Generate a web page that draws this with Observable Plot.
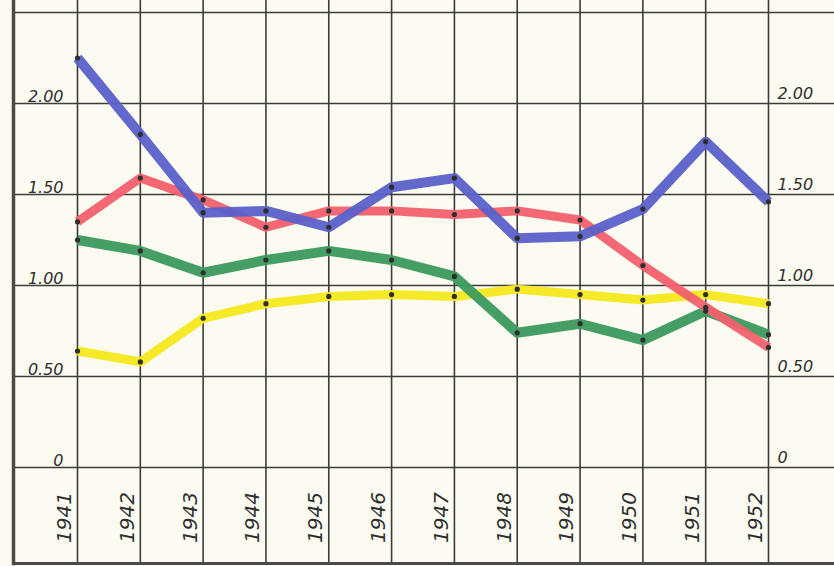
<!DOCTYPE html>
<html>
<head>
<meta charset="utf-8">
<script src="https://cdn.jsdelivr.net/npm/d3@7"></script>
<script src="https://cdn.jsdelivr.net/npm/@observablehq/plot@0.6"></script>
<style>
  html, body { margin: 0; padding: 0; background: #fcfbf1; }
  #chart svg { display: block; }
</style>
</head>
<body>
<div id="chart"></div>
<script>
const years = [1941, 1942, 1943, 1944, 1945, 1946, 1947, 1948, 1949, 1950, 1951, 1952];
const blue   = [2.25, 1.83, 1.40, 1.41, 1.32, 1.54, 1.59, 1.26, 1.27, 1.42, 1.79, 1.46];
const red    = [1.35, 1.59, 1.47, 1.32, 1.41, 1.41, 1.39, 1.41, 1.36, 1.11, 0.88, 0.66];
const green  = [1.25, 1.19, 1.07, 1.14, 1.19, 1.14, 1.05, 0.74, 0.79, 0.70, 0.86, 0.73];
const yellow = [0.64, 0.58, 0.82, 0.90, 0.94, 0.95, 0.94, 0.98, 0.95, 0.92, 0.95, 0.90];
const gridValues = [0, 0.5, 1, 1.5, 2, 2.5];
const tickValues = [0, 0.5, 1, 1.5, 2];
const tickLabels = ["0", "0.50", "1.00", "1.50", "2.00"];

const seriesList = [
  {name: "yellow", values: yellow, color: "#f5e91c", width: 9},
  {name: "green",  values: green,  color: "#3b9a5c", width: 10},
  {name: "red",    values: red,    color: "#f2606c", width: 9},
  {name: "blue",   values: blue,   color: "#5a60c9", width: 10}
];
const rows = seriesList.flatMap(s => years.map((yr, i) => ({series: s.name, year: yr, value: s.values[i]})));
const ticks = tickValues.map((v, i) => ({v, label: tickLabels[i]}));

const ink = "#3c3c3a";
const font = "'DejaVu Sans', sans-serif";

const lineMarks = seriesList.map(s =>
  Plot.line(rows.filter(d => d.series === s.name), {
    x: "year", y: "value", stroke: s.color, strokeWidth: s.width,
    strokeLinejoin: "round", strokeLinecap: "butt", strokeOpacity: 0.95
  })
);

const chart = Plot.plot({
  width: 834,
  height: 566,
  marginLeft: 13,
  marginRight: 0,
  marginTop: 0,
  marginBottom: 3,
  x: {domain: [1941, 1952], range: [77, 768], axis: null},
  y: {domain: [0, 2.5], range: [467, 12], axis: null},
  style: {background: "#fcfbf1", fontFamily: font},
  marks: [
    Plot.ruleY(gridValues, {stroke: ink, strokeWidth: 1.6}),
    Plot.ruleX(years, {stroke: ink, strokeWidth: 1.6}),
    Plot.frame({anchor: "left", stroke: "#4a4a48", strokeWidth: 3.5}),
    Plot.frame({anchor: "bottom", stroke: "#4a4a48", strokeWidth: 3}),
    ...lineMarks,
    Plot.dot(rows, {x: "year", y: "value", r: 2.6, fill: "#2e2e2e", stroke: "none"}),
    Plot.text(ticks, {
      x: () => 1941, y: "v", text: "label", textAnchor: "end", lineAnchor: "bottom",
      dx: -14, dy: -2, fontSize: 16, fontStyle: "italic", fill: "#2e2e2e", letterSpacing: "1.5px"
    }),
    Plot.text(ticks, {
      x: () => 1952, y: "v", text: "label", textAnchor: "start", lineAnchor: "bottom",
      dx: 9, dy: -5, fontSize: 16, fontStyle: "italic", fill: "#2e2e2e", letterSpacing: "1.5px"
    }),
    Plot.text(years, {
      x: d => d, frameAnchor: "bottom", text: d => String(d), rotate: -90,
      textAnchor: "middle", lineAnchor: "middle", dx: -13, dy: -46,
      fontSize: 20, fontStyle: "italic", fill: "#2e2e2e"
    })
  ]
});
document.getElementById("chart").append(chart);
</script>
</body>
</html>
